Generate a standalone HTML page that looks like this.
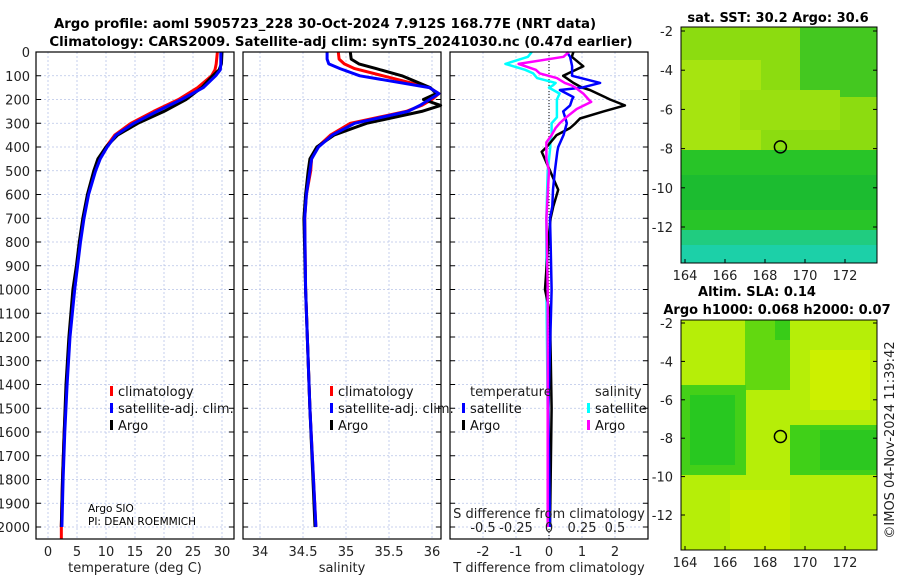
<!DOCTYPE html>
<html><head><meta charset="utf-8"><style>
body{margin:0;background:#fff;}
svg{display:block;font-family:"DejaVu Sans","Liberation Sans",sans-serif;}
</style></head><body>
<svg id="fig" width="900" height="580" viewBox="0 0 900 580">
<g id="g-titles">
<text x="325" y="28" font-size="13.3" font-weight="bold" text-anchor="middle">Argo profile: aoml 5905723_228 30-Oct-2024 7.912S 168.77E (NRT data)</text>
<text x="341" y="46" font-size="13.3" font-weight="bold" text-anchor="middle">Climatology: CARS2009. Satellite-adj clim: synTS_20241030.nc (0.47d earlier)</text>
</g>
<g id="grids"></g>
<g id="lines"></g>
<g id="frames"></g>
<g id="maps"></g>
<g id="texts"></g>
</svg>
<script>
// ---- data ----
const depthsT=[0,50,75,100,150,200,250,300,350,400,450,500,600,700,800,900,1000,1200,1400,1600,1800,2000];
const tempClim=[29.2,29.0,28.8,28.2,25.8,22.5,18.2,14.3,11.5,10.0,8.8,8.0,6.9,6.1,5.5,5.0,4.5,3.7,3.2,2.8,2.5,2.3];
const tempSat=[29.8,29.8,29.7,28.9,26.8,23.0,18.8,14.8,11.7,10.2,9.0,8.2,7.0,6.2,5.6,5.1,4.6,3.8,3.3,2.9,2.6,2.4];
const tempArgo=[30.0,29.9,29.5,28.4,26.5,23.8,20.0,15.5,12.0,10.0,8.6,7.9,6.8,6.0,5.4,4.9,4.3,3.6,3.1,2.8,2.5,2.3];
const depthsS=[0,30,50,70,100,150,175,200,225,250,300,350,400,450,500,600,700,1000,1500,2000];
const salClim=[34.91,34.92,34.98,35.1,35.43,35.97,36.08,36.0,35.88,35.7,35.05,34.82,34.67,34.6,34.59,34.54,34.52,34.53,34.58,34.65];
const salSat=[34.78,34.78,34.8,34.93,35.16,35.97,36.08,35.97,35.86,35.72,35.1,34.84,34.68,34.6,34.58,34.54,34.52,34.53,34.58,34.65];
const salArgo=[35.05,35.06,35.15,35.35,35.65,35.98,36.05,35.9,36.1,35.88,35.24,34.86,34.66,34.58,34.56,34.53,34.51,34.53,34.58,34.64];
const depthsDT=[0,20,60,100,130,150,160,190,200,225,250,280,300,320,350,400,420,500,580,650,700,800,1000,1100,1500,2000];
const dTSat=[0.54,0.64,0.7,0.7,1.55,1.0,0.33,0.74,0.7,0.64,0.43,0.5,0.54,0.5,0.44,0.28,0.25,0.18,0.12,0.1,0.03,0.05,0.08,0.06,-0.02,0.03];
const dTArgo=[0.74,0.69,1.04,0.43,0.74,1.0,1.24,1.7,1.85,2.3,1.65,0.94,0.8,0.64,0.23,-0.07,-0.22,0.03,0.28,0.13,0.05,-0.02,-0.12,0.03,0.08,0.03];
const depthsDS=[0,20,50,75,90,110,130,140,150,175,200,210,240,275,300,320,350,380,400,450,500,700,1000,1500,2000];
const dSSat=[-0.13,-0.16,-0.33,-0.18,-0.12,-0.09,0.05,0.03,0.0,0.08,0.06,0.06,0.06,0.06,0.02,0.02,0.02,0.01,0.01,0.0,-0.01,-0.02,-0.02,-0.01,0.0];
const dSArgo=[0.15,0.11,-0.23,-0.1,-0.07,0.06,0.12,0.17,0.2,0.26,0.3,0.32,0.21,0.13,0.08,0.05,0.02,-0.02,-0.02,-0.02,0.0,-0.02,-0.01,-0.01,-0.01];
const depthTicks=[0,100,200,300,400,500,600,700,800,900,1000,1100,1200,1300,1400,1500,1600,1700,1800,1900,2000];
const tTicks=[0,5,10,15,20,25,30];
const sTicks=[34,34.5,35,35.5,36];
const sTickLabels=["34","34.5","35","35.5","36"];
const dtTicks=[-2,-1,0,1,2];
const dsTicks=[-0.5,-0.25,0,0.25,0.5];
const dsTickLabels=["-0.5","-0.25","0","0.25","0.5"];
const latTicks=[-2,-4,-6,-8,-10,-12];
const lonTicks=[164,166,168,170,172];
const floatLon=168.77, floatLat=-7.912;

// ---- helpers ----
const NS="http://www.w3.org/2000/svg";
function mk(tag,parent,attrs){const e=document.createElementNS(NS,tag);for(const k in attrs)e.setAttribute(k,attrs[k]);document.getElementById(parent).appendChild(e);return e;}
const yD=d=>52+d*0.2375;
const Y0=52,Y1=539;
const P1={x0:36,x1:234}, P2={x0:243,x1:441}, P3={x0:450,x1:648};
const xT=v=>48+v*5.8;
const xS=v=>260+(v-34)*86;
const xDT=v=>549+v*33;
const xDS=v=>549+v*132;

function vgrid(xs,p){xs.forEach(x=>{const l=mk('line','grids',{x1:x,x2:x,y1:Y0,y2:Y1,stroke:'#b8c4e8','stroke-width':0.8,'stroke-dasharray':'2,2'});

});}
function hgrid(p){depthTicks.forEach(d=>{const l=mk('line','grids',{x1:p.x0,x2:p.x1,y1:yD(d),y2:yD(d),stroke:'#b8c4e8','stroke-width':0.8,'stroke-dasharray':'2,2'});

});}
vgrid(tTicks.map(xT));vgrid(sTicks.map(xS));vgrid(dtTicks.map(xDT));
[P1,P2,P3].forEach(hgrid);
const zl=mk('line','grids',{x1:xDT(0),x2:xDT(0),y1:Y0,y2:Y1,stroke:'#000','stroke-width':1,'stroke-dasharray':'1,2'});



function line(xs,ds,fx,color,name,w){const pts=xs.map((v,i)=>fx(v).toFixed(1)+','+yD(ds[i]).toFixed(1)).join(' ');
const p=mk('polyline','lines',{points:pts,fill:'none',stroke:color,'stroke-width':w||3,'stroke-linejoin':'round'});

}
line(tempClim,depthsT,xT,'#ff0000','temperature-climatology-line');
line(tempArgo,depthsT,xT,'#000000','temperature-argo-line');
line(tempSat,depthsT,xT,'#0000ff','temperature-satellite-line');
line(salClim,depthsS,xS,'#ff0000','salinity-climatology-line');
line(salArgo,depthsS,xS,'#000000','salinity-argo-line');
line(salSat,depthsS,xS,'#0000ff','salinity-satellite-line');
line(dSSat,depthsDS,xDS,'#00ffff','salinity-diff-satellite-line',2.5);
line(dTArgo,depthsDT,xDT,'#000000','temperature-diff-argo-line',2.5);
line(dTSat,depthsDT,xDT,'#0000ff','temperature-diff-satellite-line',2.5);
line(dSArgo,depthsDS,xDS,'#ff00ff','salinity-diff-argo-line',2.5);
const ext=mk('line','lines',{x1:xT(2.3),x2:xT(2.3),y1:yD(2000),y2:Y1,stroke:'#f00','stroke-width':3});



function frame(p,name){const r=mk('rect','frames',{x:p.x0,y:Y0,width:p.x1-p.x0,height:Y1-Y0,fill:'none',stroke:'#000','stroke-width':1.2});


depthTicks.forEach(d=>{mk('line','frames',{x1:p.x0,x2:p.x0+5,y1:yD(d),y2:yD(d),stroke:'#000'});mk('line','frames',{x1:p.x1-5,x2:p.x1,y1:yD(d),y2:yD(d),stroke:'#000'});});}
frame(P1,'temperature-panel');frame(P2,'salinity-panel');frame(P3,'difference-panel');
function txt(x,y,s,opts,name){const t=mk('text','texts',Object.assign({x:x,y:y,'font-size':13,fill:'#222'},opts||{}));t.textContent=s;

return t;}
depthTicks.forEach(d=>txt(30,yD(d)+5,String(d),{'text-anchor':'end'},'depth-tick-label'));
tTicks.forEach(v=>txt(xT(v),556,String(v),{'text-anchor':'middle'},'temperature-tick-label'));
sTicks.forEach((v,i)=>txt(xS(v),556,sTickLabels[i],{'text-anchor':'middle'},'salinity-tick-label'));
dtTicks.forEach(v=>txt(xDT(v),556,String(v),{'text-anchor':'middle'},'t-diff-tick-label'));
dsTicks.forEach((v,i)=>txt(xDS(v),532,dsTickLabels[i],{'text-anchor':'middle'},'s-diff-tick-label'));
txt(135,572,'temperature (deg C)',{'text-anchor':'middle'},'temperature-axis-title');
txt(342,572,'salinity',{'text-anchor':'middle'},'salinity-axis-title');
txt(549,572,'T difference from climatology',{'text-anchor':'middle'},'t-diff-axis-title');
txt(549,518,'S difference from climatology',{'text-anchor':'middle'},'s-diff-axis-title');
txt(88,512,'Argo SIO',{'font-size':10.5,fill:'#000'},'operator-label');
txt(88,525,'PI: DEAN ROEMMICH',{'font-size':10.5,fill:'#000'},'pi-label');
function leg(x,y,c,label,name){const r=mk('rect','texts',{x:x,y:y-10,width:3,height:10,fill:c});


txt(x+8,y,label,{fill:'#111'},name);}
leg(110,396,'#f00','climatology','legend-t-climatology');
leg(110,413,'#00f','satellite-adj. clim.','legend-t-satellite');
leg(110,430,'#000','Argo','legend-t-argo');
leg(330,396,'#f00','climatology','legend-s-climatology');
leg(330,413,'#00f','satellite-adj. clim.','legend-s-satellite');
leg(330,430,'#000','Argo','legend-s-argo');
txt(470,396,'temperature',{},'legend-temperature-heading');
txt(595,396,'salinity',{},'legend-salinity-heading');
leg(462,413,'#00f','satellite','legend-dt-satellite');
leg(462,430,'#000','Argo','legend-dt-argo');
leg(587,413,'#00ffff','satellite','legend-ds-satellite');
leg(587,430,'#f0f','Argo','legend-ds-argo');

function map(top,bot,latTop,pxPerDeg,blocks,title,name){
 const X0=681,X1=877;const g=document.createElementNS(NS,'g');document.getElementById('maps').appendChild(g);g.id=name;
 
 
 blocks.forEach(b=>mk('rect',name,{x:b[0],y:b[1],width:b[2],height:b[3],fill:b[4],rx:b[5]||0}));
 mk('rect',name,{x:X0,y:top,width:X1-X0,height:bot-top,fill:'none',stroke:'#000','stroke-width':1});
 const yL=l=>latTop+(-2-l)*pxPerDeg, xL=l=>685+(l-164)*20;
 latTicks.forEach(l=>{txt(673,yL(l)+5,String(l),{'text-anchor':'end'},'latitude-tick-label');mk('line',name,{x1:X0,x2:X0+4,y1:yL(l),y2:yL(l),stroke:'#000'});mk('line',name,{x1:X1-4,x2:X1,y1:yL(l),y2:yL(l),stroke:'#000'});});
 lonTicks.forEach(l=>{txt(xL(l),bot+17,String(l),{'text-anchor':'middle'},'longitude-tick-label');mk('line',name,{x1:xL(l),x2:xL(l),y1:bot,y2:bot-4,stroke:'#000'});});
 const c=mk('circle',name,{cx:xL(floatLon),cy:yL(floatLat),r:6,fill:'none',stroke:'#000','stroke-width':1.5});
 
 
 title.forEach((t,i)=>txt(t[1],t[2],t[0],{'font-weight':'bold','text-anchor':'middle',fill:'#000'},name+'-title'));
}
map(27,263,31,19.6,[
 [681,27,196,236,'#8cdc10'],[681,60,80,90,'#a6e410'],[800,27,77,70,'#44c820'],[740,90,100,40,'#9ae010'],
 [681,150,196,90,'#28c428'],[681,175,196,35,'#1cbc30'],[681,230,196,33,'#20cc80'],[681,245,196,18,'#1cd0a8']
],[['sat. SST: 30.2 Argo: 30.6',778,22]],'sst-map');
map(320,550,323,19.2,[
 [681,320,196,230,'#b6ee08'],[745,320,45,70,'#62d810'],[775,320,15,20,'#38cc18'],
 [681,385,65,90,'#44d018'],[690,395,45,70,'#28c820'],[790,425,87,50,'#40d018'],[820,430,57,40,'#2cc820'],
 [810,350,60,60,'#ccf000'],[730,490,60,60,'#c8ee00']
],[['Altim. SLA: 0.14',757,296],['Argo h1000: 0.068 h2000: 0.07',777,314]],'sla-map');
const cp=txt(0,0,'©IMOS 04-Nov-2024 11:39:42',{'text-anchor':'middle',transform:'translate(894,440) rotate(-90)'},'copyright-timestamp');
</script>
</body></html>
